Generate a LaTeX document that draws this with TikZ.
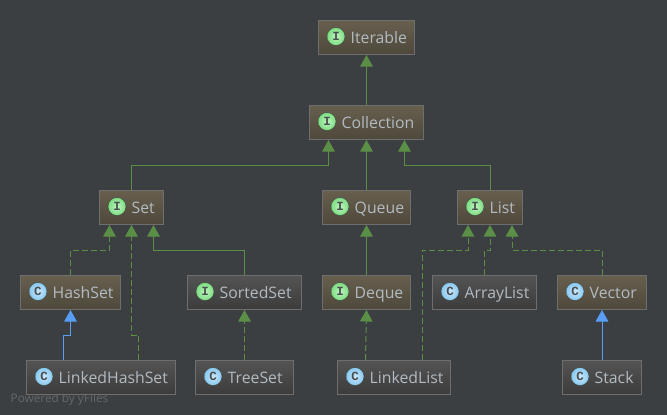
\documentclass[tikz,border=0pt]{standalone}
\usepackage{fontspec}
\setmainfont{Open Sans}
\newfontfamily\iconfont{Liberation Mono}
\usetikzlibrary{arrows.meta,calc}
\definecolor{bg}{HTML}{3C3F41}
\definecolor{edgegreen}{HTML}{5B8F47}
\definecolor{edgeblue}{HTML}{589DF6}
\definecolor{labeltxt}{HTML}{B2BBC2}
\definecolor{boxline}{HTML}{6E6E6E}
\definecolor{icontxt}{HTML}{4A4F52}
\definecolor{warmtop}{RGB}{104,95,78}
\definecolor{warmbot}{RGB}{78,73,60}
\definecolor{cooltop}{RGB}{84,84,84}
\definecolor{coolbot}{RGB}{60,60,60}
\definecolor{iconline}{RGB}{60,70,60}
\definecolor{iin}{RGB}{190,245,190}
\definecolor{iout}{RGB}{125,220,130}
\definecolor{cin}{RGB}{205,232,250}
\definecolor{cout}{RGB}{135,200,240}
\definecolor{yf}{RGB}{100,104,106}
\tikzset{
  x=1pt,y=-1pt,
  boxbase/.style={draw=boxline,line width=1pt,inner sep=0pt,outer sep=0pt,minimum height=34pt},
  warm/.style={boxbase,top color=warmtop,bottom color=warmbot},
  cool/.style={boxbase,top color=cooltop,bottom color=coolbot},
  iconbase/.style={circle,inner sep=0pt,minimum size=18pt,draw=iconline,line width=.4pt,text=icontxt,font=\iconfont\fontsize{12.5}{12.5}\selectfont\bfseries},
  iconI/.style={iconbase,inner color=iin,outer color=iout},
  iconC/.style={iconbase,inner color=cin,outer color=cout},
  lbl/.style={anchor=base west,inner sep=0pt,text=labeltxt,font=\fontsize{15.8}{17}\selectfont},
  isa/.style={draw=edgegreen,line width=1pt,-{Triangle[length=11.5pt,width=12.5pt,fill=edgegreen]}},
  impl/.style={isa,dash pattern=on 6pt off 3pt},
  ext/.style={draw=edgeblue,line width=1pt,-{Triangle[length=11.5pt,width=12.5pt,fill=edgeblue]}},
}
% name, x0, x1, ytop, box style, icon style, icon letter, text
\newcommand{\umlbox}[8]{%
  \node[#5,minimum width={#3-#2},at={({(#2+#3)/2},{#4+17})}] (#1) {};
  \node[#6,at={({#2+17.5},{#4+16.5})}] (#1-icon) {#7};
  \node[lbl,at={({#2+32},{#4+23.4})}] (#1-text) {#8};
}
\begin{document}
\begin{tikzpicture}
\useasboundingbox (0,0) rectangle (667,415);
\fill[bg] (0,0) rectangle (667,415);
\node[anchor=base west,inner sep=0pt,text=yf,font=\fontsize{11.8}{13}\selectfont] (yfiles) at (10.5,402.7) {Powered by yFiles};
\umlbox{iterable}{318.5}{414.5}{20}{warm}{iconI}{I}{Iterable}
\umlbox{collection}{309.5}{423.5}{105}{warm}{iconI}{I}{Collection}
\umlbox{set}{99.5}{163.5}{190}{warm}{iconI}{I}{Set}
\umlbox{queue}{322.5}{410.5}{190}{warm}{iconI}{I}{Queue}
\umlbox{list}{457.5}{522.5}{190}{warm}{iconI}{I}{List}
\umlbox{hashset}{20.5}{120.5}{275}{warm}{iconC}{C}{HashSet}
\umlbox{sortedset}{187.5}{301.5}{275}{cool}{iconI}{I}{SortedSet}
\umlbox{deque}{322.5}{410.5}{275}{warm}{iconI}{I}{Deque}
\umlbox{arraylist}{432.5}{536.5}{275}{cool}{iconC}{C}{ArrayList}
\umlbox{vector}{557.5}{646.5}{275}{warm}{iconC}{C}{Vector}
\umlbox{linkedhashset}{26.5}{175.5}{360}{cool}{iconC}{C}{LinkedHashSet}
\umlbox{treeset}{195.5}{293.5}{360}{cool}{iconC}{C}{TreeSet}
\umlbox{linkedlist}{337.5}{450.5}{360}{cool}{iconC}{C}{LinkedList}
\umlbox{stack}{562.5}{641.5}{360}{cool}{iconC}{C}{Stack}
% connectors
\draw[isa] (collection.north) -- ($(iterable.south)+(0,1)$);
\draw[isa] (queue.north) -- ($(collection.south)+(0,1)$);
\draw[isa] (set.north) -- ++(0,-25) -| ($(collection.south)+(-38,1)$);
\draw[isa] (list.north) -- ++(0,-25) -| ($(collection.south)+(38,1)$);
\draw[impl] (hashset.north) -- ++(0,-24.5) -| ($(set.south)+(-22,1)$);
\draw[impl] ($(linkedhashset.north)+(37.5,0)$) -- ++(0,-25) -| ($(set.south)+(0,1)$);
\draw[isa] (sortedset.north) -- ++(0,-24.5) -| ($(set.south)+(22,1)$);
\draw[ext] ($(linkedhashset.north)+(-37.5,0)$) -- ++(0,-25) -| ($(hashset.south)+(0,1)$);
\draw[impl] (treeset.north) -- ($(sortedset.south)+(0,1)$);
\draw[isa] (deque.north) -- ($(queue.south)+(0,1)$);
\draw[impl] ($(linkedlist.north)+(-28.5,0)$) -- ($(deque.south)+(0,1)$);
\draw[impl] ($(linkedlist.north)+(28,0)$) -- ++(0,-110) -| ($(list.south)+(-22,1)$);
\draw[impl] (arraylist.north) -- ++(0,-24.5) -| ($(list.south)+(0,1)$);
\draw[impl] (vector.north) -- ++(0,-24.5) -| ($(list.south)+(22,1)$);
\draw[ext] (stack.north) -- ($(vector.south)+(0,1)$);
\end{tikzpicture}
\end{document}
